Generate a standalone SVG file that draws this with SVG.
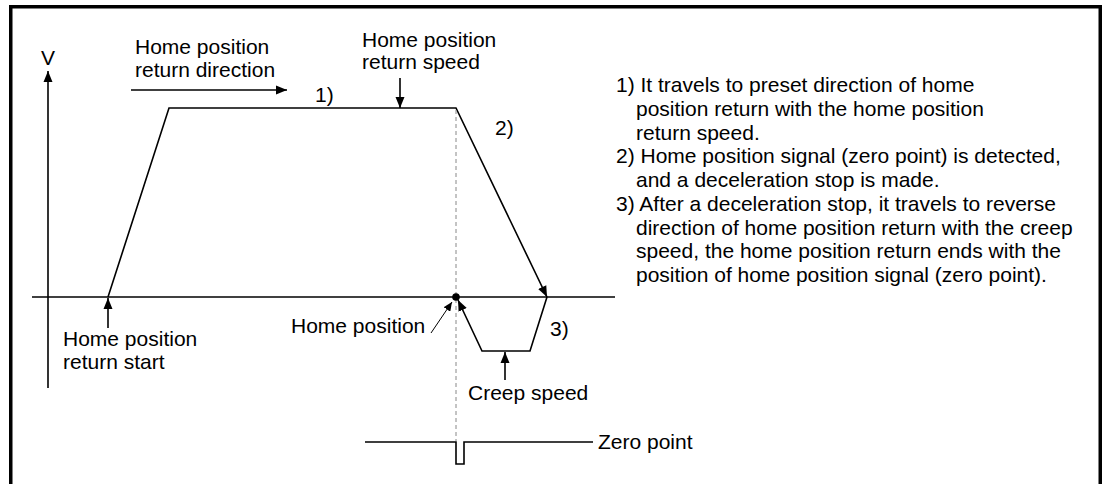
<svg xmlns="http://www.w3.org/2000/svg" width="1104" height="484" viewBox="0 0 1104 484">
<defs>
<style>
text{font-family:"Liberation Sans",Arial,sans-serif;font-size:21px;fill:#000}
.ln{fill:none;stroke:#000;stroke-width:1.6}
.thin{fill:none;stroke:#000;stroke-width:1}
.dash{fill:none;stroke:#888;stroke-width:1;stroke-dasharray:4 3}
</style>
<marker id="ah" markerWidth="12" markerHeight="10" refX="11" refY="5" orient="auto" markerUnits="userSpaceOnUse"><path d="M0,0.5 L11,5 L0,9.5 z" fill="#000"/></marker>
<marker id="ahs" markerWidth="10" markerHeight="8" refX="9" refY="4" orient="auto" markerUnits="userSpaceOnUse"><path d="M0,0 L9,4 L0,8 z" fill="#000"/></marker>
</defs>
<rect width="1104" height="484" fill="#fff"/>
<rect x="10.75" y="6.75" width="1089.5" height="490" fill="none" stroke="#000" stroke-width="3.5"/>

<g id="axes">
<line class="ln" x1="48" y1="388" x2="48" y2="71" marker-end="url(#ah)"/>
<line class="ln" x1="32" y1="297" x2="615" y2="297"/>
<text x="48" y="65" text-anchor="middle">V</text>
</g>

<g id="connectors">
<polyline class="ln" points="108,297 169,108 456,108 547,297" marker-end="url(#ah)"/>
<polyline class="ln" points="547,297 530,351 482,351 458,300" marker-end="url(#ah)"/>
<line class="dash" x1="456" y1="110" x2="456" y2="441"/>
<line class="ln" x1="131" y1="90" x2="287" y2="90" marker-end="url(#ah)"/>
<line class="ln" x1="400" y1="78" x2="400" y2="108" marker-end="url(#ah)"/>
<line class="ln" x1="108" y1="328" x2="108" y2="298" marker-end="url(#ah)"/>
<line class="ln" x1="505" y1="380" x2="505" y2="352" marker-end="url(#ah)"/>
<line class="thin" x1="431" y1="333" x2="452" y2="302" marker-end="url(#ahs)"/>
<circle cx="456" cy="297" r="3.8" fill="#000"/>
<polyline class="ln" points="365,442 456,442 456,464 464,464 464,442 593,442"/>
</g>

<g id="label-direction">
<text x="135" y="54">Home position</text>
<text x="135" y="77">return direction</text>
</g>
<g id="label-speed">
<text x="362" y="47">Home position</text>
<text x="362" y="69">return speed</text>
</g>
<g id="label-steps">
<text x="315" y="102">1)</text>
<text x="495" y="135">2)</text>
<text x="550" y="336">3)</text>
</g>
<g id="label-start">
<text x="63" y="346">Home position</text>
<text x="63" y="369">return start</text>
</g>
<g id="label-home">
<text x="291" y="333">Home position</text>
</g>
<g id="label-creep">
<text x="468" y="400">Creep speed</text>
</g>
<g id="label-zero">
<text x="598" y="449">Zero point</text>
</g>
<g id="notes">
<text x="616" y="92">1) It travels to preset direction of home</text>
<text x="636" y="115.75">position return with the home position</text>
<text x="636" y="139.5">return speed.</text>
<text x="616" y="163.25">2) Home position signal (zero point) is detected,</text>
<text x="636" y="187">and a deceleration stop is made.</text>
<text x="616" y="210.75">3) After a deceleration stop, it travels to reverse</text>
<text x="636" y="234.5">direction of home position return with the creep</text>
<text x="636" y="258.25">speed, the home position return ends with the</text>
<text x="636" y="282">position of home position signal (zero point).</text>
</g>
</svg>
